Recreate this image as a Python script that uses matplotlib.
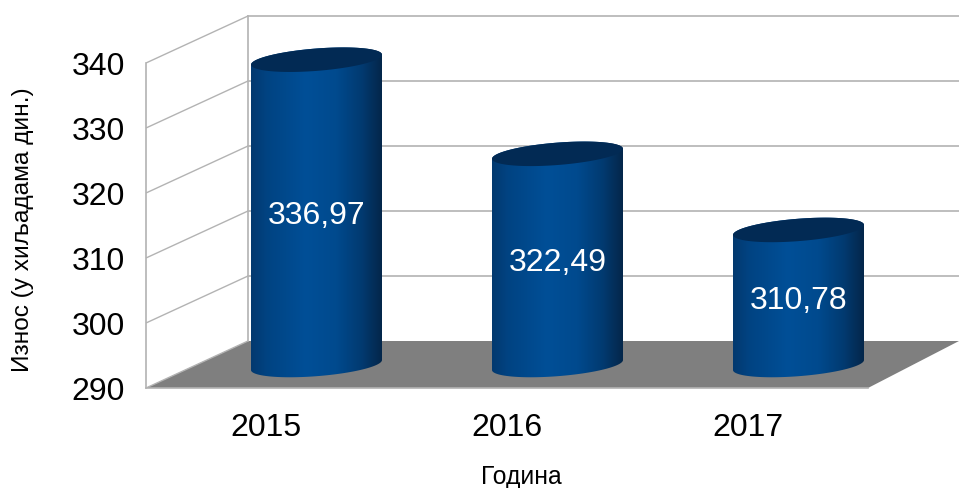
import numpy as np
import matplotlib
matplotlib.use("Agg")
import matplotlib.pyplot as plt
from matplotlib.colors import LinearSegmentedColormap
from matplotlib.patches import Polygon

plt.rcParams['font.family'] = ['Liberation Sans', 'DejaVu Sans']

years = ['2015', '2016', '2017']
values = [336.97, 322.49, 310.78]
value_labels = ['336,97', '322,49', '310,78']
y_ticks = [290, 300, 310, 320, 330, 340]
x_title = 'Година'
y_title = 'Износ (у хиљадама дин.)'

W, H = 959, 489
fig = plt.figure(figsize=(W / 100, H / 100), dpi=100)
ax = fig.add_axes([0, 0, 1, 1])
ax.axis('off')

# scale: category index -> x, value -> y (pixel calibration of the axes)
X0, DX = 316.5, 241.0       # pixel of category 0 cylinder, category spacing
Y0, DY = 389.0, 6.5         # pixel of value 290, pixels per unit
ax.set_xlim((0 - X0) / DX, (W - X0) / DX)
ax.set_ylim(290 + (Y0 - H) / DY, 290 + Y0 / DY)


def px(x):
    return (x - X0) / DX


def py(y):
    return 290 + (Y0 - y) / DY


def xoff(d):
    return d / DX


def yoff(d):
    return d / DY


GRID = '#b3b3b3'
LEFT, BACK, RIGHT = 146, 248, 959
DEPTH_Y = 47
FRONT_RIGHT = 868

# floor
ax.add_patch(Polygon([(px(LEFT), 290), (px(BACK), 290 + yoff(DEPTH_Y)),
                      (px(RIGHT), 290 + yoff(DEPTH_Y)), (px(FRONT_RIGHT), 290)],
                     closed=True, fc='#7f7f7f', ec='none', zorder=1))
# walls and gridlines
for t in y_ticks:
    ax.plot([px(LEFT), px(BACK)], [t, t + yoff(DEPTH_Y)], color=GRID, lw=1.0, zorder=2,
            solid_capstyle='butt')
    if t > 290:
        ax.plot([px(BACK), px(RIGHT)], [t + yoff(DEPTH_Y)] * 2, color=GRID, lw=1.2, zorder=2)
ax.plot([px(LEFT), px(LEFT)], [290, 340], color=GRID, lw=1.2, zorder=2)
ax.plot([px(BACK), px(BACK)], [290 + yoff(DEPTH_Y), 340 + yoff(DEPTH_Y)], color=GRID, lw=1.2, zorder=2)
ax.plot([px(LEFT), px(FRONT_RIGHT)], [290, 290], color=GRID, lw=1.2, zorder=2)

# cylinders
cmap = LinearSegmentedColormap.from_list('cyl', [
    (0.00, '#03396f'), (0.12, '#014382'), (0.42, '#004f97'), (0.65, '#004a8e'),
    (0.85, '#023a70'), (1.00, '#04264a')])
grad = np.linspace(0, 1, 256).reshape(1, -1)
HALF_W = 65.5   # px
TILT = 5.0      # px
MINOR = 11.2    # px
LIFT = 23       # px, cylinder centre behind the front plane


def ring(cx, cy, ts):
    x = cx + xoff(HALF_W) * np.cos(ts)
    y = cy + yoff(TILT) * np.cos(ts) + yoff(MINOR) * np.sin(ts)
    return x, y


for i, (v, lab) in enumerate(zip(values, value_labels)):
    base = 290 + yoff(LIFT)
    top = v + yoff(LIFT)
    tf, bf = np.linspace(0, np.pi, 80), np.linspace(np.pi, 2 * np.pi, 80)
    xt, yt = ring(i, top, tf)              # rear half lies above in data units
    xb, yb = ring(i, base, bf)             # near half lies below
    body = np.column_stack([np.r_[xt, xb], np.r_[yt, yb]])
    patch = Polygon(body, closed=True, fc='none', ec='none', transform=ax.transData)
    ax.add_patch(patch)
    im = ax.imshow(grad, cmap=cmap, aspect='auto', zorder=3,
                   extent=(i - xoff(HALF_W), i + xoff(HALF_W), base - yoff(14), top + yoff(14)))
    im.set_clip_path(patch)
    xe, ye = ring(i, top, np.linspace(0, 2 * np.pi, 160))
    ax.fill(xe, ye, color='#022a54', lw=0, zorder=4)
    ax.text(i, (v + 290) / 2 + yoff(LIFT) + yoff(-3), lab, color='white', fontsize=23,
            ha='center', va='center', zorder=5)

ax.set_xlim((0 - X0) / DX, (W - X0) / DX)
ax.set_ylim(290 + (Y0 - H) / DY, 290 + Y0 / DY)

# tick labels
for t in y_ticks:
    ax.text(px(125), t - yoff(3), str(t), fontsize=23, ha='right', va='center', color='black')
for i, y in enumerate(years):
    ax.text(i - xoff(51), py(428), y, fontsize=23, ha='center', va='center', color='black')

ax.text(px(521), py(477), x_title, fontsize=17.8, ha='center', va='center', color='black')
ax.text(px(23), py(230), y_title, fontsize=17.6, rotation=90, ha='center', va='center', color='black')

fig.savefig('out.png', dpi=100)
